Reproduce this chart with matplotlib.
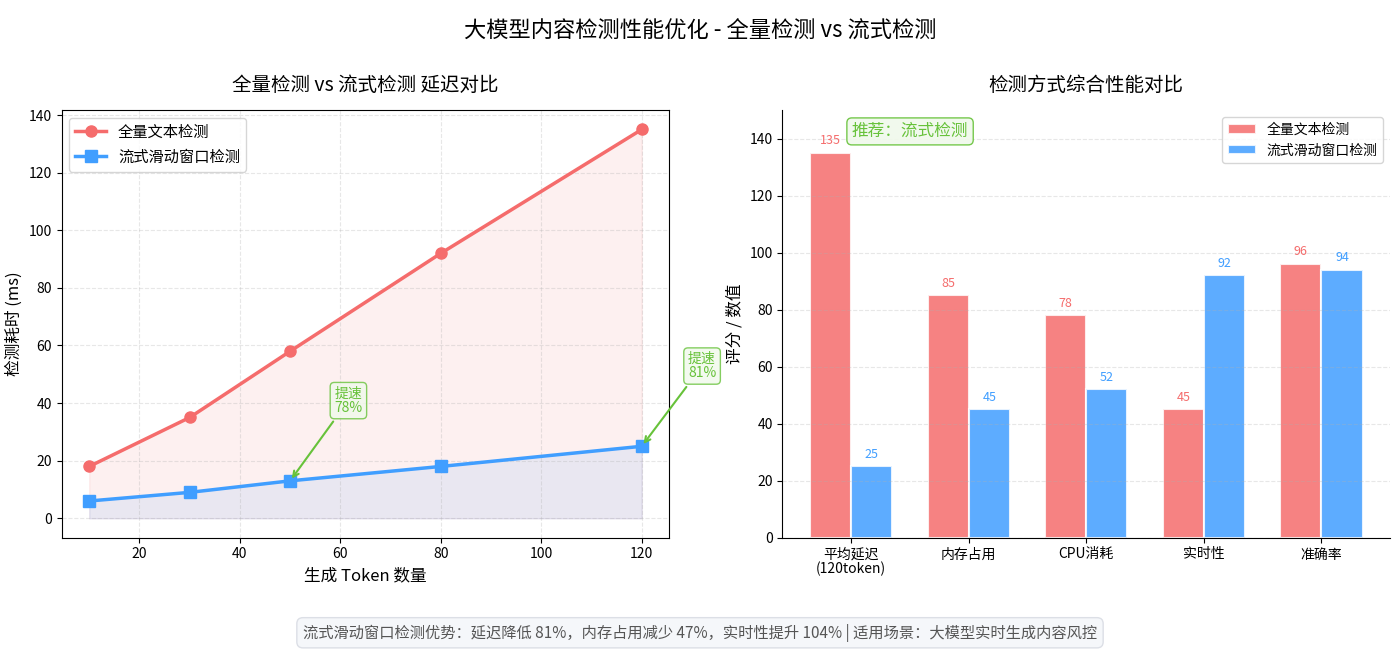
import matplotlib
matplotlib.use("Agg")
import matplotlib.pyplot as plt
import numpy as np

plt.rcParams['font.family'] = ['Noto Sans CJK SC', 'DejaVu Sans']
plt.rcParams['axes.unicode_minus'] = False

# data
tokens = [10, 30, 50, 80, 120]
full_ms = [18, 35, 58, 92, 135]
stream_ms = [6, 9, 13, 18, 25]

categories = ['平均延迟\n(120token)', '内存占用', 'CPU消耗', '实时性', '准确率']
full_scores = [135, 85, 78, 45, 96]
stream_scores = [25, 45, 52, 92, 94]

RED = '#F56C6C'
BLUE = '#409EFF'
GREEN = '#67C23A'

fig, (ax1, ax2) = plt.subplots(1, 2, figsize=(14, 6.51), dpi=100)
fig.subplots_adjust(left=0.044, right=0.993, top=0.831, bottom=0.174, wspace=0.186)

fig.suptitle('大模型内容检测性能优化 - 全量检测 vs 流式检测', fontsize=16, y=0.969)

# left: latency lines
ax1.plot(tokens, full_ms, color=RED, marker='o', linewidth=2.5, markersize=8, label='全量文本检测')
ax1.plot(tokens, stream_ms, color=BLUE, marker='s', linewidth=2.5, markersize=8, label='流式滑动窗口检测')
ax1.fill_between(tokens, full_ms, color=RED, alpha=0.1)
ax1.fill_between(tokens, stream_ms, color=BLUE, alpha=0.1)

ax1.set_title('全量检测 vs 流式检测 延迟对比', fontsize=14, pad=14)
ax1.set_xlabel('生成 Token 数量', fontsize=12)
ax1.set_ylabel('检测耗时 (ms)', fontsize=12)
ax1.grid(True, linestyle='--', alpha=0.3)
ax1.legend(loc='upper left', fontsize=11)

for i in [2, 4]:
    pct = round((1 - stream_ms[i] / full_ms[i]) * 100)
    off = (8.8, 23) if i == 2 else (9.2, 23)
    ax1.annotate(f'提速\n{pct}%', xy=(tokens[i], stream_ms[i]),
                 xytext=(tokens[i] + off[0], stream_ms[i] + off[1]),
                 fontsize=10, color=GREEN, ha='left', va='bottom', multialignment='left',
                 annotation_clip=False, linespacing=1.0,
                 bbox=dict(boxstyle='round,pad=0.3', fc='#F0F9EB', ec=GREEN, alpha=0.8),
                 arrowprops=dict(arrowstyle='->', color=GREEN, lw=1.5))

# right: bar comparison
x = np.arange(len(categories))
w = 0.35
b1 = ax2.bar(x - w / 2, full_scores, w, color=RED, alpha=0.85, edgecolor='white', linewidth=1.5, label='全量文本检测')
b2 = ax2.bar(x + w / 2, stream_scores, w, color=BLUE, alpha=0.85, edgecolor='white', linewidth=1.5, label='流式滑动窗口检测')
for bars, col in [(b1, RED), (b2, BLUE)]:
    for b in bars:
        h = b.get_height()
        ax2.text(b.get_x() + b.get_width() / 2, h + 2, f'{int(h)}', ha='center', va='bottom',
                 fontsize=9, color=col)

ax2.set_xticks(x)
ax2.set_xticklabels(categories, fontsize=10, linespacing=1.0)
ax2.set_ylim(0, 150)
ax2.set_ylabel('评分 / 数值', fontsize=12)
ax2.set_title('检测方式综合性能对比', fontsize=14, pad=14)
ax2.grid(True, axis='y', linestyle='--', alpha=0.3)
ax2.spines['top'].set_visible(False)
ax2.spines['right'].set_visible(False)
ax2.legend(loc='upper right', fontsize=10)
ax2.text(0.21, 0.95, '推荐：流式检测', transform=ax2.transAxes, fontsize=12, color=GREEN,
         ha='center', va='center',
         bbox=dict(boxstyle='round,pad=0.3', fc='#F0F9EB', ec=GREEN, alpha=0.9))

fig.text(0.5, 0.028, '流式滑动窗口检测优势：延迟降低 81%，内存占用减少 47%，实时性提升 104% | 适用场景：大模型实时生成内容风控',
         ha='center', va='center', fontsize=11, color='#555555',
         bbox=dict(boxstyle='round,pad=0.4', fc='#F5F7FA', ec='#DCDFE6'))

fig.savefig('out.png', dpi=100)
